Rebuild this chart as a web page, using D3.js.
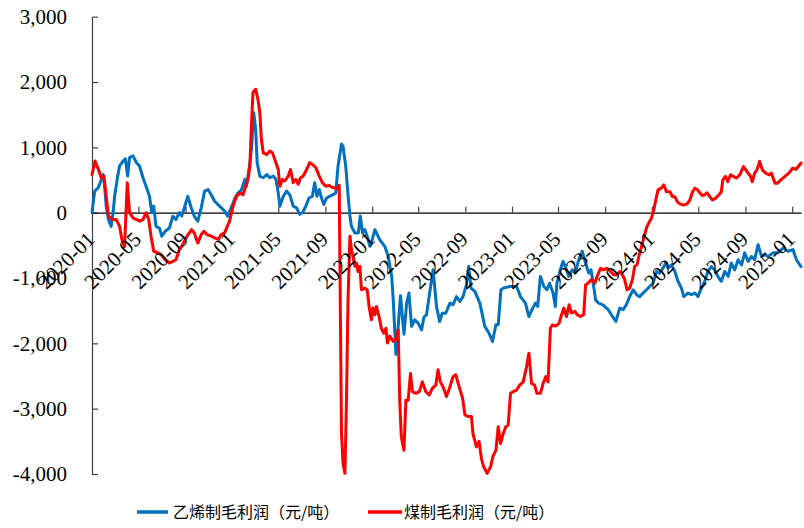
<!DOCTYPE html>
<html>
<head>
<meta charset="utf-8">
<script src="https://cdn.jsdelivr.net/npm/d3@7"></script>
<style>
  html, body { margin: 0; padding: 0; background: #fff; }
  svg { display: block; }
</style>
</head>
<body>
<div id="chart"></div>
<script>
// ---------- DATA ----------
const seriesNames = ["乙烯制毛利润（元/吨）", "煤制毛利润（元/吨）"];
const seriesColors = ["#0070C0", "#FF0000"];

const yTicks = [-4000, -3000, -2000, -1000, 0, 1000, 2000, 3000];
const yTickLabels = ["-4,000", "-3,000", "-2,000", "-1,000", "0", "1,000", "2,000", "3,000"];

const xTickLabels = ["2020-01","2020-05","2020-09","2021-01","2021-05","2021-09","2022-01","2022-05",
  "2022-09","2023-01","2023-05","2023-09","2024-01","2024-05","2024-09","2025-01"];
const xDomain = ["2020-01-01", "2025-01-24"];

// 乙烯制毛利润 (元/吨)
const ethyleneProfit = [
["2020-01-01",0],["2020-01-08",330],["2020-01-17",380],["2020-01-25",500],["2020-01-30",585],["2020-02-03",405],["2020-02-07",100],["2020-02-13",-108],["2020-02-20",-210],["2020-02-25",0],["2020-02-29",250],["2020-03-08",560],["2020-03-13",715],["2020-03-22",790],["2020-03-28",825],["2020-04-03",560],["2020-04-08",845],["2020-04-17",870],["2020-04-26",765],["2020-05-04",715],["2020-05-13",535],["2020-05-21",405],["2020-05-30",250],["2020-06-05",0],["2020-06-10",100],["2020-06-16",-210],["2020-06-25",-235],["2020-07-01",-360],["2020-07-10",-285],["2020-07-21",-235],["2020-07-30",-55],["2020-08-07",-105],["2020-08-16",0],["2020-08-22",-50],["2020-08-29",75],["2020-09-07",250],["2020-09-16",75],["2020-09-24",-55],["2020-10-03",-130],["2020-10-12",75],["2020-10-21",330],["2020-10-30",355],["2020-11-07",275],["2020-11-16",175],["2020-11-29",100],["2020-12-12",25],["2020-12-20",-55],["2020-12-31",100],
["2021-01-08",225],["2021-01-16",300],["2021-01-25",350],["2021-02-03",510],["2021-02-07",405],["2021-02-11",560],["2021-02-16",765],["2021-02-20",970],["2021-02-26",1530],["2021-03-03",1275],["2021-03-07",765],["2021-03-14",560],["2021-03-23",535],["2021-04-01",585],["2021-04-09",535],["2021-04-18",560],["2021-04-25",510],["2021-05-01",300],["2021-05-05",100],["2021-05-14",250],["2021-05-23",330],["2021-05-31",275],["2021-06-09",100],["2021-06-18",75],["2021-06-26",-25],["2021-07-03",0],["2021-07-12",100],["2021-07-20",225],["2021-07-29",250],["2021-08-04",460],["2021-08-10",250],["2021-08-16",355],["2021-08-22",225],["2021-08-28",125],["2021-09-04",225],["2021-09-12",250],["2021-09-21",275],["2021-09-28",300],["2021-10-04",715],["2021-10-13",1050],["2021-10-17",1020],["2021-10-24",715],["2021-10-30",275],["2021-11-04",-50],["2021-11-08",-210],["2021-11-17",-310],["2021-11-26",-310],["2021-12-01",-50],["2021-12-07",-310],["2021-12-13",-260],["2021-12-19",-360],["2021-12-26",-515],["2021-12-30",-465],
["2022-01-08",-260],["2022-01-21",-415],["2022-02-03",-515],["2022-02-12",-670],["2022-02-21",-975],["2022-02-25",-1335],["2022-03-04",-2170],["2022-03-10",-1740],["2022-03-16",-1270],["2022-03-25",-1860],["2022-04-01",-1385],["2022-04-07",-1230],["2022-04-14",-1740],["2022-04-22",-1640],["2022-05-01",-1690],["2022-05-10",-1795],["2022-05-16",-1600],["2022-05-23",-1560],["2022-05-31",-1230],["2022-06-09",-875],["2022-06-18",-1435],["2022-06-26",-1665],["2022-07-03",-1540],["2022-07-12",-1540],["2022-07-23",-1385],["2022-07-31",-1410],["2022-08-09",-1285],["2022-08-18",-1360],["2022-08-26",-1285],["2022-09-04",-1105],["2022-09-10",-820],["2022-09-16",-1155],["2022-09-26",-1205],["2022-10-09",-1385],["2022-10-22",-1740],["2022-11-02",-1845],["2022-11-11",-1970],["2022-11-20",-1715],["2022-11-26",-1715],["2022-12-03",-1180],["2022-12-09",-1155],["2022-12-26",-1130],
["2023-01-13",-1130],["2023-01-23",-1285],["2023-02-05",-1385],["2023-02-14",-1590],["2023-02-22",-1485],["2023-03-03",-1385],["2023-03-09",-1435],["2023-03-16",-975],["2023-03-25",-1130],["2023-04-02",-1180],["2023-04-09",-1080],["2023-04-18",-1230],["2023-04-24",-1435],["2023-04-28",-1080],["2023-05-07",-875],["2023-05-14",-745],["2023-05-20",-825],["2023-05-29",-975],["2023-06-07",-875],["2023-06-15",-925],["2023-06-24",-720],["2023-07-03",-590],["2023-07-12",-770],["2023-07-20",-925],["2023-07-26",-875],["2023-08-02",-1130],["2023-08-07",-1335],["2023-08-15",-1385],["2023-08-26",-1410],["2023-09-09",-1485],["2023-09-17",-1560],["2023-09-29",-1665],["2023-10-09",-1460],["2023-10-18",-1485],["2023-10-26",-1410],["2023-11-04",-1285],["2023-11-13",-1180],["2023-11-22",-1255],["2023-11-30",-1285],["2023-12-09",-1230],["2023-12-18",-1180],["2023-12-26",-1130],
["2024-01-04",-1080],["2024-01-13",-900],["2024-01-21",-925],["2024-01-30",-850],["2024-02-06",-770],["2024-02-12",-850],["2024-02-21",-800],["2024-03-01",-900],["2024-03-09",-1050],["2024-03-18",-1155],["2024-03-24",-1285],["2024-04-04",-1230],["2024-04-13",-1255],["2024-04-22",-1230],["2024-04-30",-1285],["2024-05-09",-1155],["2024-05-18",-1050],["2024-05-26",-900],["2024-06-04",-825],["2024-06-13",-875],["2024-06-21",-975],["2024-06-30",-1050],["2024-07-09",-900],["2024-07-18",-975],["2024-07-26",-770],["2024-08-04",-875],["2024-08-13",-720],["2024-08-22",-800],["2024-08-30",-615],["2024-09-08",-745],["2024-09-17",-670],["2024-09-25",-720],["2024-10-04",-490],["2024-10-13",-670],["2024-10-21",-640],["2024-10-30",-670],["2024-11-12",-615],["2024-11-25",-615],["2024-12-08",-540],["2024-12-21",-590],["2025-01-03",-565],["2025-01-12",-720],["2025-01-24",-825]
];

// 煤制毛利润 (元/吨)
const coalProfit = [
["2020-01-01",585],["2020-01-09",790],["2020-01-18",660],["2020-01-25",535],["2020-02-01",560],["2020-02-07",250],["2020-02-13",-50],["2020-02-22",-105],["2020-03-04",-105],["2020-03-13",-210],["2020-03-19",-415],["2020-03-26",-520],["2020-04-02",460],["2020-04-08",0],["2020-04-17",-80],["2020-04-26",-105],["2020-05-05",-130],["2020-05-13",-105],["2020-05-21",0],["2020-05-28",-105],["2020-06-03",-360],["2020-06-10",-590],["2020-06-21",-615],["2020-06-29",-640],["2020-07-10",-720],["2020-07-21",-770],["2020-07-30",-745],["2020-08-07",-720],["2020-08-16",-565],["2020-08-22",-515],["2020-08-29",-435],["2020-09-05",-360],["2020-09-11",-310],["2020-09-17",-260],["2020-09-24",-310],["2020-10-03",-465],["2020-10-12",-335],["2020-10-19",-285],["2020-10-27",-335],["2020-11-07",-360],["2020-11-16",-385],["2020-11-26",-410],["2020-12-03",-335],["2020-12-12",-310],["2020-12-19",-210],["2020-12-25",-130],
["2021-01-03",100],["2021-01-12",250],["2021-01-21",300],["2021-01-29",275],["2021-02-05",405],["2021-02-11",510],["2021-02-16",715],["2021-02-20",1330],["2021-02-24",1840],["2021-03-03",1890],["2021-03-09",1735],["2021-03-14",1530],["2021-03-18",1120],["2021-03-23",915],["2021-04-01",890],["2021-04-09",945],["2021-04-16",915],["2021-04-22",815],["2021-05-01",660],["2021-05-05",405],["2021-05-12",510],["2021-05-18",485],["2021-05-27",560],["2021-06-02",660],["2021-06-09",460],["2021-06-16",510],["2021-06-22",435],["2021-06-28",535],["2021-07-05",560],["2021-07-14",660],["2021-07-22",765],["2021-07-29",740],["2021-08-07",690],["2021-08-16",560],["2021-08-24",460],["2021-09-02",405],["2021-09-11",415],["2021-09-20",380],["2021-09-28",380],["2021-10-04",355],["2021-10-07",420],["2021-10-13",-3380],["2021-10-17",-3840],["2021-10-22",-3990],["2021-10-26",-2870],["2021-10-30",-1335],["2021-11-04",-360],["2021-11-08",-565],["2021-11-12",-665],["2021-11-17",-820],["2021-11-21",-770],["2021-11-25",-900],["2021-11-30",-820],["2021-12-04",-1180],["2021-12-13",-1155],["2021-12-19",-1180],["2021-12-24",-1435],["2021-12-30",-1640],
["2022-01-03",-1460],["2022-01-08",-1565],["2022-01-12",-1435],["2022-01-19",-1590],["2022-01-25",-1770],["2022-01-31",-1845],["2022-02-06",-1770],["2022-02-10",-1995],["2022-02-16",-1890],["2022-02-25",-1970],["2022-03-04",-1945],["2022-03-10",-1795],["2022-03-14",-2870],["2022-03-18",-3430],["2022-03-25",-3635],["2022-03-30",-2870],["2022-04-05",-2870],["2022-04-11",-2460],["2022-04-16",-2740],["2022-04-25",-2765],["2022-05-04",-2740],["2022-05-12",-2590],["2022-05-21",-2740],["2022-05-30",-2790],["2022-06-07",-2690],["2022-06-16",-2640],["2022-06-22",-2405],["2022-06-28",-2590],["2022-07-05",-2665],["2022-07-14",-2815],["2022-07-23",-2665],["2022-07-31",-2510],["2022-08-07",-2480],["2022-08-16",-2665],["2022-08-25",-2840],["2022-08-31",-3095],["2022-09-08",-3120],["2022-09-17",-3120],["2022-09-21",-3380],["2022-09-30",-3585],["2022-10-07",-3500],["2022-10-13",-3760],["2022-10-19",-3890],["2022-10-28",-3990],["2022-11-06",-3890],["2022-11-12",-3735],["2022-11-20",-3635],["2022-11-26",-3275],["2022-12-02",-3535],["2022-12-09",-3380],["2022-12-16",-3275],["2022-12-22",-3250],["2022-12-28",-2765],
["2023-01-04",-2740],["2023-01-13",-2715],["2023-01-21",-2640],["2023-01-30",-2590],["2023-02-08",-2355],["2023-02-14",-2150],["2023-02-21",-2615],["2023-03-01",-2640],["2023-03-07",-2765],["2023-03-16",-2765],["2023-03-23",-2615],["2023-03-30",-2510],["2023-04-05",-2590],["2023-04-11",-1770],["2023-04-16",-1720],["2023-04-25",-1735],["2023-05-04",-1690],["2023-05-10",-1565],["2023-05-16",-1460],["2023-05-23",-1590],["2023-05-30",-1410],["2023-06-05",-1535],["2023-06-14",-1510],["2023-06-20",-1560],["2023-06-29",-1590],["2023-07-07",-1560],["2023-07-12",-1105],["2023-07-18",-1080],["2023-07-27",-1025],["2023-08-05",-1080],["2023-08-11",-975],["2023-08-20",-850],["2023-08-28",-875],["2023-09-06",-850],["2023-09-15",-900],["2023-09-23",-950],["2023-10-02",-950],["2023-10-09",-900],["2023-10-16",-950],["2023-10-22",-1025],["2023-10-28",-1180],["2023-11-04",-1155],["2023-11-11",-1025],["2023-11-17",-820],["2023-11-23",-800],["2023-11-28",-665],["2023-12-05",-515],["2023-12-11",-385],["2023-12-18",-230],["2023-12-24",-155],["2023-12-31",-80],
["2024-01-06",50],["2024-01-13",245],["2024-01-17",350],["2024-01-26",380],["2024-02-01",425],["2024-02-08",320],["2024-02-17",320],["2024-02-24",245],["2024-03-01",245],["2024-03-07",170],["2024-03-14",135],["2024-03-24",115],["2024-04-02",135],["2024-04-09",195],["2024-04-16",320],["2024-04-22",375],["2024-04-28",355],["2024-05-05",305],["2024-05-12",260],["2024-05-18",275],["2024-05-24",305],["2024-05-31",245],["2024-06-07",195],["2024-06-15",220],["2024-06-24",275],["2024-06-30",320],["2024-07-04",500],["2024-07-11",555],["2024-07-17",475],["2024-07-24",580],["2024-07-31",555],["2024-08-09",530],["2024-08-17",580],["2024-08-27",705],["2024-09-05",630],["2024-09-14",560],["2024-09-19",475],["2024-09-25",605],["2024-10-01",655],["2024-10-08",785],["2024-10-15",655],["2024-10-24",605],["2024-11-02",580],["2024-11-08",605],["2024-11-17",450],["2024-11-23",450],["2024-12-02",500],["2024-12-13",555],["2024-12-24",610],["2025-01-02",680],["2025-01-11",665],["2025-01-20",730],["2025-01-24",760]
];

// ---------- CHART ----------
const W = 804, H = 528;
const parse = d3.utcParse("%Y-%m-%d");
const axisFont = "'Liberation Serif', 'Times New Roman', serif";
const cjkFont = "'Noto Sans CJK SC', sans-serif";

const svg = d3.select("#chart").append("svg")
  .attr("width", W).attr("height", H)
  .attr("viewBox", `0 0 ${W} ${H}`);

const x = d3.scaleUtc().domain(xDomain.map(parse)).range([92, 801]);
const y = d3.scaleLinear().domain([-4000, 3000]).range([474, 16.7]);

// Y axis (ticks pointing inward)
const yAxis = svg.append("g")
  .attr("transform", `translate(${x.range()[0]},0)`)
  .call(d3.axisRight(y).tickValues(yTicks).tickSize(6).tickSizeOuter(0).tickFormat(""));
yAxis.select(".domain").attr("stroke", "#404040").attr("stroke-width", 1.2);
yAxis.selectAll(".tick line").attr("stroke", "#404040").attr("stroke-width", 1.2);

svg.append("g").selectAll("text")
  .data(yTicks)
  .join("text")
  .attr("x", 67)
  .attr("y", d => y(d))
  .attr("dy", "0.35em")
  .attr("text-anchor", "end")
  .attr("font-family", axisFont)
  .attr("font-size", 21)
  .attr("fill", "#000")
  .text((d, i) => yTickLabels[i]);

// X axis at zero (ticks pointing up)
const xTickDates = xTickLabels.map(s => parse(s + "-01"));
const xAxis = svg.append("g")
  .attr("transform", `translate(0,${y(0)})`)
  .call(d3.axisTop(x).tickValues(xTickDates).tickSize(6).tickSizeOuter(0).tickFormat(""));
xAxis.select(".domain").attr("stroke", "#000").attr("stroke-width", 1.2);
xAxis.selectAll(".tick line").attr("stroke", "#404040").attr("stroke-width", 1.2);

// Lines
const line = d3.line()
  .x(d => x(parse(d[0])))
  .y(d => y(d[1]))
  .curve(d3.curveLinear);

[ethyleneProfit, coalProfit].forEach((data, i) => {
  svg.append("path")
    .datum(data)
    .attr("fill", "none")
    .attr("stroke", seriesColors[i])
    .attr("stroke-width", 3)
    .attr("stroke-linejoin", "round")
    .attr("stroke-linecap", "round")
    .attr("d", line);
});

// X tick labels (rotated), drawn on top
svg.append("g").selectAll("text")
  .data(xTickDates)
  .join("text")
  .attr("transform", d => `translate(${x(d) + 4},${y(0) + 28}) rotate(-45)`)
  .attr("text-anchor", "end")
  .attr("font-family", axisFont)
  .attr("font-size", 21)
  .attr("fill", "#000")
  .text((d, i) => xTickLabels[i]);

// Legend
const legendItems = [
  { x1: 137, x2: 168, tx: 173 },
  { x1: 368, x2: 402, tx: 404 }
];
const lg = svg.append("g");
legendItems.forEach((it, i) => {
  lg.append("line")
    .attr("x1", it.x1).attr("x2", it.x2)
    .attr("y1", 512).attr("y2", 512)
    .attr("stroke", seriesColors[i])
    .attr("stroke-width", 3.5);
  lg.append("text")
    .attr("x", it.tx)
    .attr("y", 512)
    .attr("dy", "0.36em")
    .attr("font-family", cjkFont)
    .attr("font-size", 16)
    .attr("fill", "#000")
    .text(seriesNames[i]);
});
</script>
</body>
</html>
